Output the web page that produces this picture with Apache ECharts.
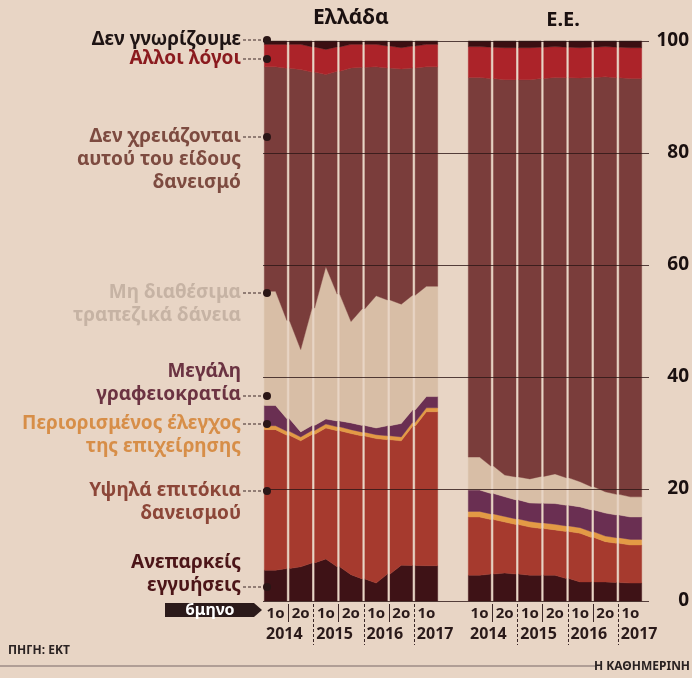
<!DOCTYPE html>
<html>
<head>
<meta charset="utf-8">
<script src="https://cdn.jsdelivr.net/npm/echarts@6/dist/echarts.min.js"></script>
<style>
  html, body { margin: 0; padding: 0; background: #e8d5c5; }
  #chart { width: 692px; height: 678px; }
</style>
</head>
<body>
<div id="chart"></div>
<script>
const semesters = ["1ο", "2ο", "1ο", "2ο", "1ο", "2ο", "1ο"];
const years = ["2014", "2015", "2016", "2017"];
const yearStart = [0, 2, 4, 6];
const yMin = 0;
const yMax = 100;
const yStep = 20;

// Ελλάδα, % of firms, layers from bottom to top
const grCollateral = [5.5, 6.1, 7.5, 4.7, 3.2, 6.4, 6.3];
const grRates = [25.1, 22.5, 23.4, 25.2, 25.8, 22.2, 27.5];
const grControl = [0.7, 0.7, 0.7, 0.7, 0.7, 0.7, 0.7];
const grBureaucracy = [3.6, 0.9, 0.9, 1.2, 1.2, 2.4, 2.0];
const grNoLoans = [20.4, 14.7, 27.2, 18.1, 23.6, 21.3, 19.7];
const grNoNeed = [40.1, 50.0, 34.3, 45.3, 40.9, 42.0, 39.2];
const grOther = [4.0, 4.5, 4.5, 4.2, 4.0, 3.8, 4.0];
const grDontKnow = [0.6, 0.6, 1.5, 0.6, 0.6, 1.2, 0.6];

// Ε.Ε.
const euCollateral = [4.6, 5.0, 4.6, 4.6, 3.4, 3.4, 3.2];
const euRates = [10.4, 9.1, 8.6, 8.1, 8.7, 7.2, 6.8];
const euControl = [1.0, 1.0, 1.0, 1.0, 1.0, 1.0, 1.0];
const euBureaucracy = [3.8, 3.5, 3.3, 3.7, 3.7, 4.1, 4.0];
const euNoLoans = [5.9, 3.9, 4.3, 5.3, 4.5, 3.8, 3.6];
const euNoNeed = [67.8, 70.6, 71.3, 70.8, 72.1, 74.1, 74.7];
const euOther = [5.5, 5.7, 5.7, 5.5, 5.4, 5.4, 5.5];
const euDontKnow = [1.0, 1.2, 1.2, 1.0, 1.2, 1.0, 1.2];

const layerNames = [
  ["Ανεπαρκείς", "εγγυήσεις"],
  ["Υψηλά επιτόκια", "δανεισμού"],
  ["Περιορισμένος έλεγχος", "της επιχείρησης"],
  ["Μεγάλη", "γραφειοκρατία"],
  ["Μη διαθέσιμα", "τραπεζικά δάνεια"],
  ["Δεν χρειάζονται", "αυτού του είδους", "δανεισμό"],
  ["Αλλοι λόγοι"],
  ["Δεν γνωρίζουμε"],
];

const FONT = "'Noto Sans', 'DejaVu Sans', sans-serif";
const layerColors = ["#3e1216", "#a63a2e", "#e39a45", "#6a2f52", "#d8bea6", "#7a3d3b", "#ac2329", "#3b0f12"];
const labelColors = ["#4c1518", "#8c4638", "#d78e48", "#6b3342", "#c6b3a4", "#7d4b40", "#8a1a1e", "#1e1414"];
// label layout: y of first line, y of the leader line and dot
const labelLayout = [
  { y: 563, dot: 587 },
  { y: 491, dot: 491 },
  { y: 424, dot: 424 },
  { y: 372, dot: 396 },
  { y: 293, dot: 293 },
  { y: 137, dot: 137 },
  { y: 59, dot: 59 },
  { y: 40, dot: 40 },
];

const chart = echarts.init(document.getElementById("chart"));

function stackOf(layers) {
  const bases = [];
  const tops = [];
  let acc = layers[0].map(() => 0);
  layers.forEach((arr) => {
    bases.push(acc.slice());
    acc = acc.map((a, i) => a + arr[i]);
    tops.push(acc.slice());
  });
  return { bases, tops };
}

function edges(arr, i) {
  const left = i > 0 ? (arr[i - 1] + arr[i]) / 2 : arr[i];
  const right = i < arr.length - 1 ? (arr[i] + arr[i + 1]) / 2 : arr[i];
  return [left, right];
}

function renderColumn(api, bases, tops, color) {
  const i = api.value(0);
  const half = api.size([1, 0])[0] / 2;
  const cx = api.coord([i, 0])[0];
  const y = (v) => api.coord([i, v])[1];
  const [hiL, hiR] = edges(tops, i);
  const [loL, loR] = edges(bases, i);
  const xl = cx - half + 1.3;
  const xr = cx + half - 1.3;
  return {
    type: "polygon",
    shape: {
      points: [
        [xl, y(hiL)], [cx, y(tops[i])], [xr, y(hiR)],
        [xr, y(loR)], [cx, y(bases[i])], [xl, y(loL)],
      ],
    },
    style: { fill: color, stroke: color, lineWidth: 0.4 },
  };
}

function panelSeries(layers, axisIndex) {
  const { bases, tops } = stackOf(layers);
  return layers.map((arr, k) => ({
    type: "custom",
    name: layerNames[k].join(" "),
    xAxisIndex: axisIndex,
    yAxisIndex: axisIndex,
    silent: true,
    encode: { x: 0, y: [1, 2] },
    data: arr.map((v, i) => [i, bases[k][i], tops[k][i]]),
    renderItem: (params, api) => renderColumn(api, bases[k], tops[k], layerColors[k]),
  }));
}

const grLayers = [grCollateral, grRates, grControl, grBureaucracy, grNoLoans, grNoNeed, grOther, grDontKnow];
const euLayers = [euCollateral, euRates, euControl, euBureaucracy, euNoLoans, euNoNeed, euOther, euDontKnow];

function catAxis(gridIndex) {
  return {
    type: "category",
    gridIndex,
    data: semesters,
    boundaryGap: true,
    axisLine: { show: false },
    axisTick: { show: false },
    axisLabel: { color: "#2a1a1a", fontFamily: FONT, fontWeight: "bold", fontSize: 15, margin: 5 },
  };
}

function hiddenY(gridIndex) {
  return { type: "value", gridIndex, min: yMin, max: yMax, show: false };
}

chart.setOption({
  backgroundColor: "#e8d5c5",
  animation: false,
  grid: [
    { left: 263, width: 176, top: 41, bottom: 77 },
    { left: 467, width: 176, top: 41, bottom: 77 },
    { left: 263, right: 42, top: 41, bottom: 77 },
  ],
  xAxis: [catAxis(0), catAxis(1), { type: "value", gridIndex: 2, min: 0, max: 1, show: false }],
  yAxis: [
    hiddenY(0),
    hiddenY(1),
    {
      type: "value",
      gridIndex: 2,
      position: "right",
      min: yMin,
      max: yMax,
      interval: yStep,
      z: 10,
      axisLine: { show: false },
      axisTick: { show: false },
      axisLabel: {
        color: "#1a1010",
        fontFamily: FONT,
        fontWeight: "bold",
        fontSize: 19,
        align: "right",
        margin: 40,
      },
      splitLine: { show: true, lineStyle: { color: "rgba(45,22,22,0.8)", width: 1.2 } },
    },
  ],
  series: [...panelSeries(grLayers, 0), ...panelSeries(euLayers, 1)],
});

// annotations placed from the axes once they exist
const graphics = [];
const px = (axis, i) => chart.convertToPixel({ xAxisIndex: axis }, i);

function label(x, y, text, fill, font, align) {
  return {
    type: "text",
    x,
    y,
    z: 30,
    style: { text, fill, font, textAlign: align || "left", textVerticalAlign: "middle" },
  };
}

[0, 1].forEach((axis) => {
  const colW = px(axis, 1) - px(axis, 0);
  years.forEach((yr, k) => {
    graphics.push(label(px(axis, yearStart[k]) - colW / 2 + 3, 634, yr, "#2a1a1a", `bold 16px ${FONT}`));
  });
  for (let b = 1; b < semesters.length; b++) {
    const x = Math.round((px(axis, b - 1) + px(axis, b)) / 2) + 0.5;
    const yearEdge = yearStart.includes(b);
    graphics.push({
      type: "line",
      shape: { x1: x, y1: 604, x2: x, y2: yearEdge ? 645 : 622 },
      style: { stroke: "#3a2626", lineWidth: 1, lineDash: yearEdge ? [3, 2] : null },
    });
  }
});

graphics.push(
  label(351, 18, "Ελλάδα", "#1a1010", `bold 21px ${FONT}`, "center"),
  label(563, 20, "Ε.Ε.", "#1a1010", `bold 20px ${FONT}`, "center"),
);

layerNames.forEach((lines, k) => {
  const lay = labelLayout[k];
  lines.forEach((line, j) => {
    graphics.push(label(241, lay.y + j * 23, line, labelColors[k], `bold 19px ${FONT}`, "right"));
  });
  graphics.push({
    type: "line",
    shape: { x1: 243, y1: lay.dot, x2: 265, y2: lay.dot },
    style: { stroke: "#3a2626", lineWidth: 1.2, lineDash: [3, 2] },
  });
  graphics.push({
    type: "circle",
    shape: { cx: 267, cy: lay.dot, r: 4 },
    style: { fill: "#2a1616" },
    z: 20,
  });
});

graphics.push(
  {
    type: "polygon",
    shape: { points: [[165, 603], [254, 603], [262, 610], [254, 617], [165, 617]] },
    style: { fill: "#2b1a1a" },
  },
  label(210, 610, "6μηνο", "#ffffff", `bold 16px ${FONT}`, "center"),
  label(8, 651, "ΠΗΓΗ: ΕΚΤ", "#2a2222", `bold 12px ${FONT}`),
  { type: "line", shape: { x1: 0, y1: 666, x2: 596, y2: 666 }, style: { stroke: "#b09e96", lineWidth: 2 } },
  label(690, 667, "Η ΚΑΘΗΜΕΡΙΝΗ", "#2a2222", `bold 12px ${FONT}`, "right"),
);

chart.setOption({ graphic: graphics });
</script>
</body>
</html>
